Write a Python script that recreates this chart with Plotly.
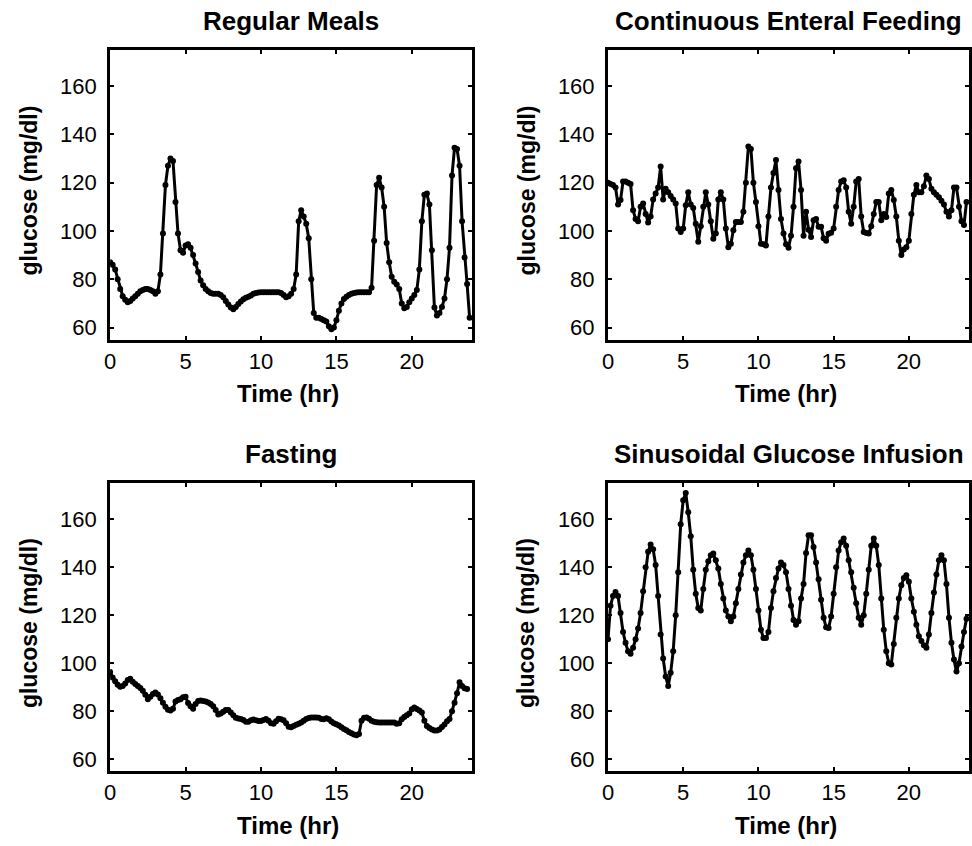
import plotly.graph_objects as go

# ---------------- data (10-minute samples, mg/dl) ----------------
titles = ["Regular Meals", "Continuous Enteral Feeding", "Fasting", "Sinusoidal Glucose Infusion"]
sample_minutes = 10
x_ticks = [0, 5, 10, 15, 20]
y_ticks = [60, 80, 100, 120, 140, 160]

regular_meals = [
    87, 86, 84, 80, 76, 73,
    71.5, 70.5, 71, 72, 73, 74,
    75, 75.5, 76, 76, 75.5, 75,
    74, 75, 82, 99, 119, 127,
    130, 129, 112, 99, 92, 91,
    94, 94.5, 93, 90, 86.5, 83,
    79.5, 77.5, 76, 75, 74.3, 74,
    74, 74, 73.5, 72.5, 71, 69.5,
    68.3, 67.6, 68.5, 69.7, 70.8, 71.7,
    72.3, 72.8, 73.3, 74, 74.3, 74.5,
    74.6, 74.6, 74.6, 74.6, 74.6, 74.6,
    74.6, 74.6, 74.3, 73.5, 72.5, 73,
    74, 76, 82, 104, 108.6, 106,
    103, 97, 80, 66, 64, 64,
    63.5, 63, 62.5, 60.5, 59.3, 60,
    63, 67, 70, 71.8, 72.8, 73.5,
    74, 74.3, 74.5, 74.6, 74.6, 74.6,
    74.6, 74.6, 76.5, 96, 119, 122,
    118, 110, 95, 87, 81, 79,
    77.8, 76, 70, 68, 68.5, 70.5,
    72, 73.5, 75.5, 84, 104, 115,
    115.5, 111, 92, 68.3, 65, 66,
    68.5, 72, 80, 93, 123, 134.5,
    134, 127, 104, 89, 78, 64,
]

enteral_feeding = [
    120, 119.5, 119, 118, 111, 112.8,
    120.5, 120.5, 120, 119.5, 108.6, 105,
    104, 110, 111.4, 107, 103.5, 106,
    113, 115.5, 118, 126.7, 113, 117.5,
    116, 114.5, 113, 111.4, 101, 99.6,
    101, 110.7, 116, 111, 109.5, 103,
    95.5, 102, 110, 116, 111, 104,
    96.8, 99, 113, 116, 113, 101,
    93.3, 94.7, 100.3, 103.75, 103.75, 103.75,
    108, 120, 135, 134, 120, 112,
    102, 94.7, 94.5, 94, 106, 118,
    124, 129.4, 117, 105, 99, 94.5,
    93, 98, 110, 126, 128.75, 117,
    98, 108, 100.5, 97.5, 104.4, 105,
    101.7, 101.7, 97, 96, 98.9, 99.3,
    101, 110, 117, 120.5, 121, 118,
    108, 103, 110, 120.5, 121.5, 106,
    99.6, 99.2, 99, 102, 107, 112,
    112, 104.4, 107, 105.8, 115.5, 117,
    112.8, 106, 96, 90, 92.3, 93.3,
    96, 107, 115, 119, 116, 116,
    118.5, 123, 121.5, 117.5, 116, 115,
    114, 112.5, 111, 108, 106, 108.6,
    118, 118, 110, 104, 102.5, 112,
]

fasting = [
    96.3, 94, 92.5, 91, 90.2, 90.5,
    91.5, 93, 93.5, 92.3, 91.3, 90.5,
    89.7, 88.5, 86.8, 85, 86, 87.2,
    87.8, 87, 85.4, 83.5, 81.8, 80.6,
    80.3, 81, 84, 84.7, 85, 85.8,
    86, 83.4, 82, 81, 83, 84.2,
    84.4, 84.2, 84, 83.6, 83, 82,
    80.5, 78.6, 79, 79.8, 80.5, 80.5,
    79.4, 78.3, 77.3, 76.9, 76.7, 76.3,
    75.6, 75.6, 76.2, 76.5, 76.2, 75.9,
    75.9, 76.3, 76.7, 76, 75, 74.7,
    75.8, 76.8, 76.6, 76.2, 75, 73.5,
    73.3, 73.8, 74.3, 74.8, 75.3, 76,
    76.7, 77.1, 77.4, 77.4, 77.4, 77.2,
    76.7, 76.6, 77, 76.6, 75.7, 75,
    74.5, 74, 73.3, 72.6, 72, 71.3,
    70.8, 70.3, 70, 70.5, 76, 77.2,
    77.4, 76.8, 76, 75.6, 75.4, 75.3,
    75.3, 75.3, 75.3, 75.3, 75.3, 75.3,
    74.8, 75, 76.6, 77.6, 78.3, 79,
    80.8, 81.5, 80.9, 80.3, 79.4, 76,
    73.8, 73, 72.4, 71.9, 71.9, 72.4,
    73.4, 74.4, 75.8, 76.7, 80, 83.5,
    87.5, 92.1, 90.5, 89.6, 89.2,
]

sinusoidal_infusion = [
    110, 124, 128, 129.7, 128, 121,
    113, 108.5, 105, 104, 106.5, 110,
    114.5, 121, 130, 140, 146.5, 149.5,
    147.5, 141, 128, 112, 102, 94.5,
    90.5, 96, 105, 120, 138, 158,
    168, 171, 163, 153, 139, 129,
    123, 122, 131, 139, 142.5, 145,
    145.8, 143, 139.5, 133, 127, 122,
    119.5, 117.5, 119.5, 125, 131, 137,
    142, 145, 147, 145, 139, 131,
    122, 114, 110.5, 110.5, 113, 123,
    130, 135.5, 139.5, 142, 141, 138,
    131, 124, 118, 116, 117.5, 127,
    133, 146, 153.4, 153.4, 148.5, 142,
    135, 126.5, 119, 115, 114.7, 119.5,
    129, 140, 147, 150.5, 152, 149,
    143, 138, 131.5, 125, 119, 116,
    120, 129, 139, 149, 152, 149,
    141, 127, 114, 105, 100, 99.5,
    108, 119, 127, 132.5, 135.5, 136.7,
    134, 127, 121.5, 116, 111.3, 109.3,
    107.5, 106.5, 112, 121, 129.5, 137,
    143, 145, 143, 133, 119, 108.5,
    101.5, 96.5, 100, 107, 113, 118.5,
]

series = [regular_meals, enteral_feeding, fasting, sinusoidal_infusion]

# ---------------- layout geometry (pixels) ----------------
W, H = 972, 846
col_px = [(105, 470), (607, 971)]
row_px = [(50, 340), (484, 772)]

FONT = "Liberation Sans, Arial, sans-serif"
fig = go.Figure()
annotations = []

for k, (name, vals) in enumerate(zip(titles, series)):
    r, c = divmod(k, 2)
    x0, x1 = col_px[c]
    top, bot = row_px[r]
    ax = "" if k == 0 else str(k + 1)
    hours = [i * sample_minutes / 60 for i in range(len(vals))]
    fig.add_trace(go.Scatter(
        x=hours, y=vals, mode="lines+markers",
        line=dict(color="black", width=3),
        marker=dict(color="black", size=6),
        xaxis="x" + ax, yaxis="y" + ax, showlegend=False,
    ))
    common = dict(
        showline=True, linewidth=3, linecolor="black", mirror="ticks",
        ticks="inside", ticklen=4, tickwidth=1.5, tickcolor="black",
        showgrid=False, zeroline=False,
        tickfont=dict(family=FONT, size=22, color="black"),
    )
    fig.update_layout(**{
        "xaxis" + ax: dict(domain=[x0 / W, x1 / W], range=[0, 24],
                           tickvals=x_ticks, anchor="y" + ax, **common),
        "yaxis" + ax: dict(domain=[(H - bot) / H, (H - top) / H], range=[55, 175],
                           tickvals=y_ticks, anchor="x" + ax,
                           ticklabelstandoff=6, **common),
    })
    cx = (x0 + x1) / 2 / W
    annotations.append(dict(text=name, x=cx, y=(H - (top - 29)) / H, xref="paper", yref="paper",
                            showarrow=False, xanchor="center", yanchor="middle",
                            font=dict(family=FONT, size=26, color="black", weight="bold")))
    annotations.append(dict(text="Time (hr)", x=(cx * W - 3) / W, y=(H - (bot + 54)) / H,
                            xref="paper", yref="paper",
                            showarrow=False, xanchor="center", yanchor="middle",
                            font=dict(family=FONT, size=24, color="black", weight="bold")))
    annotations.append(dict(text="glucose (mg/dl)", x=(x0 - 82) / W, y=(H - (top + bot) / 2 + 4) / H,
                            xref="paper", yref="paper", textangle=-90,
                            showarrow=False, xanchor="center", yanchor="middle",
                            font=dict(family=FONT, size=23, color="black", weight="bold")))

fig.update_layout(
    width=W, height=H, autosize=False,
    margin=dict(l=0, r=0, t=0, b=0),
    paper_bgcolor="white", plot_bgcolor="white",
    annotations=annotations,
)

fig.write_html("out.html")
